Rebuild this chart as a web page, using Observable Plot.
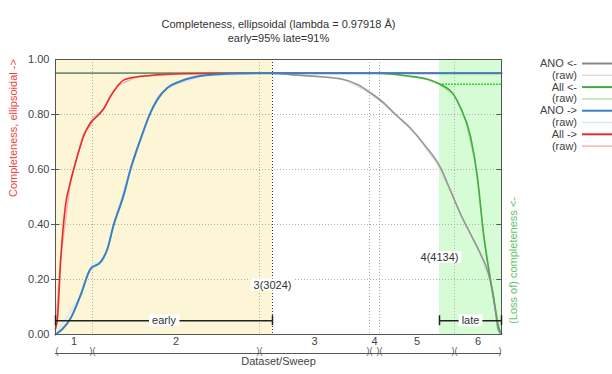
<!DOCTYPE html>
<html>
<head>
<meta charset="utf-8">
<script src="https://cdn.jsdelivr.net/npm/d3@7"></script>
<script src="https://cdn.jsdelivr.net/npm/@observablehq/plot@0.6"></script>
<style>
  body { margin: 0; background: #fff; }
  svg { display: block; }
</style>
</head>
<body>
<div id="chart"></div>
<script>
// Sweep layout along the cumulative image axis
const sweepNames = ["1", "2", "3", "4", "5", "6"];
const sweepEdges = [0, 370, 2040, 3140, 3240, 3990, 4460];
const earlyEnd = 2170;
const lateStart = 3840;
const earlyMark = "3(3024)";
const lateMark = "4(4134)";
const earlyPct = 0.95;
const latePct = 0.91;

const titleLines = ["Completeness, ellipsoidal (lambda = 0.97918 Å)", "early=95% late=91%"];
const yTitleLeft = "Completeness, ellipsoidal ->";
const yTitleRight = "(Loss of) completeness <-";
const xTitle = "Dataset/Sweep";

// ANO <-  (completeness from image x to the end, anomalous)
const anoRevX = [0, 2170, 2350, 2650, 2850, 3020, 3150, 3280, 3400, 3550, 3700, 3850, 3950, 4050, 4150, 4250, 4320, 4370, 4400, 4420, 4440, 4460];
const anoRevY = [0.95, 0.95, 0.945, 0.937, 0.93, 0.909, 0.879, 0.843, 0.80, 0.75, 0.685, 0.607, 0.523, 0.438, 0.366, 0.293, 0.233, 0.16, 0.088, 0.028, 0.008, 0.003];
const anoRevRawX = [0, 2170, 2400, 2700, 2900, 3100, 3250, 3400, 3600, 3800, 3950, 4100, 4250, 4350, 4400, 4440, 4460];
const anoRevRawY = [0.95, 0.95, 0.943, 0.936, 0.925, 0.888, 0.848, 0.80, 0.73, 0.63, 0.52, 0.40, 0.29, 0.19, 0.09, 0.01, 0.003];

// All <-
const allRevX = [0, 3250, 3520, 3720, 3850, 3980, 4050, 4150, 4220, 4280, 4350, 4400, 4430, 4460];
const allRevY = [0.95, 0.95, 0.94, 0.928, 0.909, 0.873, 0.825, 0.72, 0.57, 0.366, 0.197, 0.088, 0.028, 0.003];
const allRevRawX = [0, 3250, 3500, 3700, 3850, 3990, 4100, 4200, 4280, 4350, 4400, 4440, 4460];
const allRevRawY = [0.95, 0.95, 0.941, 0.93, 0.908, 0.868, 0.78, 0.62, 0.37, 0.2, 0.09, 0.015, 0.003];

// ANO ->  (completeness from the start up to image x, anomalous)
const anoFwdX = [0, 70, 150, 250, 350, 450, 520, 580, 680, 750, 850, 950, 1020, 1120, 1250, 1350, 1480, 1820, 2170, 4460];
const anoFwdY = [0, 0.02, 0.058, 0.142, 0.239, 0.263, 0.312, 0.396, 0.505, 0.601, 0.71, 0.807, 0.855, 0.897, 0.921, 0.933, 0.942, 0.949, 0.95, 0.95];
const anoFwdRawX = [0, 250, 350, 380, 470, 500, 580, 750, 950, 1030, 1130, 1480, 2170, 4460];
const anoFwdRawY = [0, 0.14, 0.24, 0.262, 0.262, 0.29, 0.40, 0.60, 0.81, 0.87, 0.90, 0.942, 0.95, 0.95];

// All ->
const allFwdX = [0, 20, 50, 100, 150, 220, 280, 350, 420, 480, 550, 620, 680, 820, 950, 1250, 1650, 2170, 4460];
const allFwdY = [0.02, 0.06, 0.26, 0.47, 0.555, 0.65, 0.72, 0.77, 0.795, 0.82, 0.867, 0.903, 0.925, 0.937, 0.942, 0.948, 0.95, 0.95, 0.95];
const allFwdRawX = [0, 50, 150, 280, 350, 380, 420, 480, 620, 820, 1250, 2170, 4460];
const allFwdRawY = [0.02, 0.27, 0.56, 0.73, 0.76, 0.79, 0.80, 0.82, 0.905, 0.938, 0.948, 0.95, 0.95];

const seriesNames = ["ANO <-", "(raw)", "All <-", "(raw)", "ANO ->", "(raw)", "All ->", "(raw)"];
const seriesColors = ["#888888", "#dddddd", "#44aa44", "#b9e3a6", "#3b80c0", "#d8e7f5", "#e82a2a", "#f7b4b4"];
const seriesWidths = [2, 1.5, 2, 1.5, 2, 1.5, 2, 1.5];

const total = sweepEdges[sweepEdges.length - 1];
const toRows = (xs, ys) => xs.map((x, i) => ({x, y: ys[i]}));

// drawing order: All <-, ANO <-, All ->, ANO -> on top
const smooth = [
  {rows: toRows(allRevX, allRevY), color: seriesColors[2], opacity: 1, width: 1.6},
  {rows: toRows(anoRevX, anoRevY), color: seriesColors[0], opacity: 0.85, width: 1.6},
  {rows: toRows(allFwdX, allFwdY), color: seriesColors[6], opacity: 1, width: 1.6},
  {rows: toRows(anoFwdX, anoFwdY), color: seriesColors[4], opacity: 1, width: 2}
];
const raw = [
  {rows: toRows(anoRevRawX, anoRevRawY), color: seriesColors[1]},
  {rows: toRows(allRevRawX, allRevRawY), color: seriesColors[3]},
  {rows: toRows(anoFwdRawX, anoFwdRawY), color: seriesColors[5]},
  {rows: toRows(allFwdRawX, allFwdRawY), color: seriesColors[7]}
];

const sweepMids = sweepNames.map((n, i) => ({name: n, x: (sweepEdges[i] + sweepEdges[i + 1]) / 2}));
const innerEdges = sweepEdges.slice(1, -1);
const boxedTexts = ["early", "late", earlyMark, lateMark];

const plot = Plot.plot({
  width: 612,
  height: 374,
  marginLeft: 55,
  marginRight: 111,
  marginTop: 59,
  marginBottom: 40,
  style: {fontFamily: "'Liberation Sans', Arial, sans-serif", fontSize: "11px", color: "#444", background: "white", overflow: "visible"},
  x: {domain: [0, total], axis: null},
  y: {domain: [0, 1], ticks: 5, tickFormat: ".2f", tickSize: 0, tickPadding: 6, label: null},
  marks: [
    // early / late shaded ranges
    Plot.rect([{a: 0, b: earlyEnd}], {x1: "a", x2: "b", y1: 0, y2: 1, fill: "#fdf6d6"}),
    Plot.rect([{a: lateStart, b: total}], {x1: "a", x2: "b", y1: 0, y2: 1, fill: "#d5fcd5"}),
    // dotted grid
    Plot.ruleY([0.2, 0.4, 0.6, 0.8], {stroke: "#b0b0b0", strokeDasharray: "1,2"}),
    Plot.ruleX(innerEdges, {stroke: "#b0b0b0", strokeDasharray: "1,2"}),
    Plot.ruleX([earlyEnd], {stroke: "#333", strokeDasharray: "1,2"}),
    Plot.ruleY([latePct], {x1: lateStart, x2: total, stroke: "#22e022", strokeDasharray: "2,1", strokeWidth: 1.5}),
    // raw curves
    ...raw.map(s => Plot.line(s.rows, {x: "x", y: "y", stroke: s.color, strokeWidth: 1.5})),
    // smoothed curves
    ...smooth.map(s => Plot.line(s.rows, {x: "x", y: "y", stroke: s.color, strokeWidth: s.width, strokeOpacity: s.opacity, curve: "monotone-x"})),
    // frame and inner ticks
    Plot.frame({stroke: "#555"}),
    Plot.ruleY([0.2, 0.4, 0.6, 0.8], {x1: -40, x2: 45, stroke: "#555"}),
    Plot.ruleY([0.2, 0.4, 0.6, 0.8], {x1: total - 45, x2: total, stroke: "#555"}),
    // early / late extents
    Plot.ruleY([0.05], {x1: 0, x2: earlyEnd, stroke: "#222", strokeWidth: 1.5}),
    Plot.ruleY([0.05], {x1: lateStart, x2: total, stroke: "#222", strokeWidth: 1.5}),
    Plot.ruleX([0, earlyEnd, lateStart, total], {y1: 0.032, y2: 0.068, stroke: "#222", strokeWidth: 1.5}),
    Plot.text(["early"], {x: earlyEnd / 2, y: 0.05, fill: "#333"}),
    Plot.text(["late"], {x: (lateStart + total) / 2, y: 0.05, fill: "#333"}),
    Plot.text([earlyMark], {x: earlyEnd, y: 0.18, fill: "#333"}),
    Plot.text([lateMark], {x: lateStart, y: 0.28, fill: "#333"}),
    // sweep axis under the frame
    Plot.ruleY([0], {x1: 0, x2: total, dy: 19, stroke: "#555"}),
    Plot.text(sweepMids, {x: "x", text: "name", frameAnchor: "bottom", dy: 10, fill: "#444"}),
    Plot.text(innerEdges, {x: d => d, text: () => ")(", frameAnchor: "bottom", dy: 19, fill: "#555", fontSize: 9}),
    Plot.text([0], {x: d => d, text: () => "(", frameAnchor: "bottom", dy: 19, dx: 1.5, fill: "#555", fontSize: 9}),
    Plot.text([total], {x: d => d, text: () => ")", frameAnchor: "bottom", dy: 19, dx: -1.5, fill: "#555", fontSize: 9}),
    Plot.text([xTitle], {frameAnchor: "bottom", dy: 30.5, fill: "#444"}),
    // axis titles
    Plot.text([yTitleLeft], {frameAnchor: "left", rotate: -90, dx: -42, fill: "#ee4444"}),
    Plot.text([yTitleRight], {frameAnchor: "right", rotate: -90, dx: 12, fill: "#66c466"}),
    // chart title
    Plot.text([titleLines[0]], {frameAnchor: "top", dy: -39, fill: "#333"}),
    Plot.text([titleLines[1]], {frameAnchor: "top", dy: -25, fill: "#333"})
  ]
});

document.getElementById("chart").append(plot);

// white boxes behind the in-plot labels
d3.select(plot).selectAll("text")
  .filter(function () { return boxedTexts.includes(this.textContent); })
  .each(function () {
    const b = this.getBBox();
    d3.select(this.parentNode).insert("rect", () => this)
      .attr("x", b.x - 3).attr("y", b.y)
      .attr("width", b.width + 6).attr("height", b.height)
      .attr("transform", this.getAttribute("transform"))
      .attr("fill", "white");
  });

// legend at the right
const legend = d3.select(plot).append("g")
  .attr("font-family", "'Liberation Sans', Arial, sans-serif")
  .attr("font-size", 11);
seriesNames.forEach((name, i) => {
  const y = 63.5 + i * 11.8;
  legend.append("text").attr("x", 577).attr("y", y).attr("dy", "0.32em")
    .attr("text-anchor", "end").attr("fill", "#444").text(name);
  legend.append("line").attr("x1", 582).attr("x2", 612).attr("y1", y).attr("y2", y)
    .attr("stroke", seriesColors[i]).attr("stroke-width", seriesWidths[i]);
});
</script>
</body>
</html>
